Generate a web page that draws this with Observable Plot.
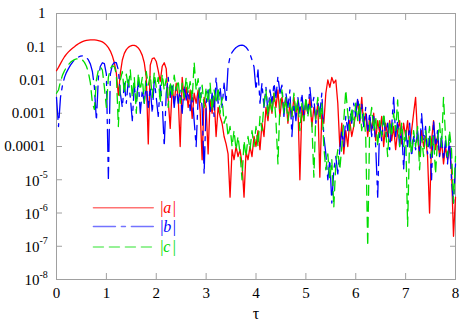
<!DOCTYPE html>
<html><head><meta charset="utf-8">
<script src="https://cdn.jsdelivr.net/npm/d3@7"></script>
<script src="https://cdn.jsdelivr.net/npm/@observablehq/plot@0.6"></script>
<style>
body{margin:0;background:#fff}
#chart{width:460px;height:327px}
</style>
</head><body><div id="chart"></div>
<script>
// sampling step of tau for the series below
const tauStep = 0.04;

const absA = [
  0.019, 0.024, 0.031, 0.04, 0.05, 0.06, 0.07, 0.08, 0.09, 0.1,
  0.112, 0.123, 0.133, 0.142, 0.15, 0.155, 0.158, 0.16, 0.16, 0.16,
  0.158, 0.154, 0.148, 0.14, 0.128, 0.112, 0.094, 0.074, 0.053, 0.033,
  0.016, 0.0035, 0.016, 0.04, 0.063, 0.082, 0.096, 0.105, 0.11, 0.11,
  0.104, 0.092, 0.075, 0.055, 0.033, 0.012, 1.2e-4, 0.028, 0.044, 0.046,
  0.036, 0.019, 0.009, 0.026, 0.033, 0.022, 2.5e-3, 3.5e-4, 6e-3, 2e-3,
  8e-3, 3e-3, 1e-4, 1.2e-2, 2.5e-3, 6e-3, 1.5e-3, 5e-3, 7e-4, 4e-3,
  2e-3, 5e-3, 1.2e-3, 4e-5, 3e-3, 1.5e-3, 6e-5, 2.5e-3, 1e-3, 3e-3,
  2e-4, 1.5e-3, 8e-4, 5e-4, 2e-4, 1.2e-4, 6e-5, 3e-6, 8e-5, 4e-5,
  1e-4, 5e-5, 8e-5, 3e-5, 3e-6, 7e-5, 4e-5, 1e-4, 5e-5, 2e-4,
  1e-4, 3e-4, 8e-5, 5e-4, 2e-4, 1.5e-3, 6e-4, 2.5e-3, 1e-3, 4e-3,
  1.5e-3, 5e-3, 8e-4, 3e-3, 1.2e-3, 3e-3, 5e-4, 2e-3, 8e-4, 3e-3,
  1e-3, 2e-3, 1e-5, 1.5e-3, 6e-4, 2.5e-3, 1e-3, 3e-3, 4e-4, 1.5e-3,
  7e-4, 2e-3, 1.2e-5, 1e-3, 5e-4, 4e-3, 1e-2, 6e-3, 1.2e-2, 8e-3,
  1e-2, 2e-3, 1e-4, 5e-4, 6e-5, 3e-4, 1e-4, 6e-4, 2e-4, 4e-4,
  1e-3, 2.5e-3, 5e-4, 3e-3, 4e-4, 1e-3, 2e-4, 8e-4, 3e-4, 1e-3,
  1.5e-4, 6e-4, 2.5e-4, 8e-4, 1e-4, 5e-4, 2e-4, 6e-4, 1.5e-4, 4e-4,
  8e-5, 3e-4, 6e-4, 1.2e-4, 5e-4, 2e-4, 6e-4, 1e-4, 3e-4, 1e-3,
  3e-3, 2e-4, 5e-5, 3e-4, 1e-4, 2e-4, 5e-5, 1e-6, 1.5e-4, 6e-4,
  8e-5, 2e-4, 5e-5, 1.5e-4, 3e-5, 1e-4, 4e-5, 1e-4, 2e-5, 2e-7,
  3e-6
];

const absB = [
  3e-3, 4e-4, 3e-3, 7e-3, 0.012, 0.017, 0.022, 0.028, 0.034, 0.04,
  0.045, 0.049, 0.052, 0.053, 0.052, 0.048, 0.04, 0.03, 0.018, 0.006,
  6e-4, 0.012, 0.026, 0.033, 0.031, 0.015, 1.1e-5, 0.015, 0.028, 0.034,
  0.033, 0.02, 4e-3, 1.5e-3, 8e-3, 2e-3, 1e-2, 3e-3, 6e-4, 7e-3,
  2e-3, 9e-3, 1e-3, 5e-3, 2e-3, 8e-3, 1.5e-3, 6e-3, 1e-3, 1e-2,
  3e-3, 8e-4, 7e-3, 2e-3, 1e-4, 4e-3, 1.2e-2, 3e-3, 8e-3, 1.5e-3,
  6e-3, 2e-3, 5e-3, 1e-3, 7e-3, 2.5e-3, 5e-3, 1.2e-3, 4e-3, 6e-4,
  1e-4, 3e-3, 6e-3, 1.5e-3, 1.5e-5, 2e-3, 5e-3, 1e-3, 4e-3, 8e-4,
  1.2e-2, 2e-3, 6e-3, 1.5e-3, 8e-3, 2e-3, 0.025, 0.05, 0.068, 0.082,
  0.095, 0.104, 0.11, 0.112, 0.108, 0.097, 0.08, 0.06, 0.04, 0.025,
  5e-3, 0.02, 2e-3, 8e-3, 1.5e-3, 6e-3, 1e-3, 5e-3, 2e-3, 8e-3,
  3e-3, 1.3e-2, 4e-3, 7e-3, 8e-4, 4e-3, 1.5e-3, 5e-3, 2e-4, 2e-3,
  6e-4, 3e-3, 1e-3, 4e-3, 8e-4, 2.5e-3, 1e-3, 6e-3, 1.5e-3, 3e-3,
  5e-4, 2e-3, 1e-3, 4e-3, 2e-4, 6e-5, 1e-5, 4e-5, 2e-6, 2e-5,
  5e-5, 1.5e-5, 8e-5, 3e-4, 1e-4, 8e-4, 3e-4, 1.5e-3, 5e-4, 2e-3,
  8e-4, 3e-3, 6e-4, 2e-3, 4e-4, 1.5e-3, 3e-4, 1e-3, 2e-4, 8e-4,
  1e-4, 3e-6, 5e-4, 1.5e-4, 8e-4, 2e-4, 5e-4, 8e-5, 4e-4, 3e-3,
  2e-4, 6e-4, 1e-4, 4e-4, 2e-5, 3e-4, 1e-4, 5e-4, 5e-5, 2e-4,
  8e-5, 3e-4, 6e-5, 1e-3, 1.5e-4, 4e-4, 6e-5, 2e-4, 1e-5, 6e-4,
  1e-4, 3e-4, 5e-5, 2e-4, 4e-5, 1.5e-4, 3e-5, 2e-4, 1e-5, 2e-6,
  3e-5
];

const absC = [
  4e-3, 5e-3, 0.009, 0.014, 0.019, 0.024, 0.029, 0.034, 0.038, 0.041,
  0.043, 0.044, 0.043, 0.04, 0.034, 0.026, 0.017, 0.008, 2e-3, 1.3e-3,
  0.01, 0.02, 0.025, 0.02, 0.006, 1.5e-3, 0.012, 0.022, 0.027, 0.025,
  0.015, 4e-4, 0.01, 0.018, 4e-3, 0.015, 6e-3, 0.02, 3e-3, 0.012,
  1e-3, 0.016, 5e-3, 0.012, 2e-3, 0.018, 7e-3, 0.014, 3e-3, 0.017,
  6e-3, 0.012, 2e-3, 0.015, 5e-3, 0.011, 1.5e-3, 9e-3, 3e-3, 0.014,
  5e-3, 0.01, 2e-3, 8e-3, 3e-3, 0.012, 4e-3, 9e-3, 2.5e-3, 0.034,
  5e-3, 0.011, 2e-3, 7e-3, 1.5e-3, 6e-3, 2e-3, 8e-3, 1.2e-3, 5e-3,
  2e-3, 6e-3, 1e-3, 3e-3, 5e-4, 8e-4, 2e-4, 4e-4, 1e-4, 3e-4,
  8e-5, 2e-4, 6e-5, 1e-5, 1.5e-4, 5e-5, 2e-4, 8e-5, 3e-4, 1e-4,
  4e-4, 1e-4, 8e-4, 3e-4, 2e-3, 5e-3, 8e-4, 3e-3, 1e-3, 4e-3,
  6e-4, 3e-5, 2e-3, 5e-3, 1e-3, 3e-3, 6e-4, 2e-3, 8e-4, 4e-3,
  1e-3, 2.5e-3, 3e-4, 2e-3, 6e-4, 3e-3, 8e-4, 2e-3, 5e-4, 1.2e-5,
  1e-3, 3e-3, 6e-4, 2e-3, 1e-4, 2e-5, 6e-5, 1e-5, 4e-5, 1.5e-6,
  3e-5, 8e-5, 2e-5, 1e-4, 6e-4, 5e-3, 1e-3, 3e-4, 1.5e-3, 4e-4,
  2e-3, 6e-4, 2e-3, 3e-4, 1e-3, 2e-4, 1e-7, 5e-4, 1.5e-3, 3e-4,
  8e-4, 1e-4, 6e-4, 2e-4, 1e-3, 3e-4, 5e-5, 6e-4, 2e-4, 1e-3,
  3e-4, 2.5e-3, 1e-4, 5e-4, 1e-4, 3e-4, 4e-7, 2e-4, 6e-5, 3e-4,
  1e-4, 4e-4, 2e-5, 2e-4, 5e-5, 3e-4, 1e-4, 4e-4, 5e-5, 2e-4,
  1.5e-5, 1.5e-4, 5e-4, 1e-4, 3e-3, 2e-4, 5e-5, 3e-4, 8e-5, 2e-6,
  5e-5
];

const seriesNames = ["a", "b", "c"];
const xTicks = [0, 1, 2, 3, 4, 5, 6, 7, 8];
const yTicksDecimal = [1, 0.1, 0.01, 0.001, 0.0001];
const yTickLabelsDecimal = ["1", "0.1", "0.01", "0.001", "0.0001"];
const yTicksPow = [1e-5, 1e-6, 1e-7, 1e-8];
const yTickExponents = ["-5", "-6", "-7", "-8"];
// legend placement (in data coordinates)
const legendTau = [0.74, 1.94];
const legendLabelTau = 2.08;
const legendY = [1.45e-6, 3.9e-7, 9.5e-8];

const colors = ["#ff0000", "#0000ff", "#00dd00"];
const dashes = [null, "22,6,4,6", "10,6"];
const font = "Liberation Serif, DejaVu Serif, serif";
const frameColor = "#a0a0a0";

const toRows = (vals) => vals.map((v, i) => ({tau: +(i * tauStep).toFixed(2), v}));
const series = [absA, absB, absC].map(toRows);
const allYTicks = [...yTicksDecimal, ...yTicksPow];
const tf = {fontFamily: font, fill: "black"};

const marks = [
  Plot.frame({stroke: frameColor}),
  Plot.axisX({anchor: "bottom", ticks: xTicks, tickSize: 6, insetBottom: 6, stroke: frameColor, fill: "none", label: null}),
  Plot.axisX({anchor: "top", ticks: xTicks, tickSize: 6, insetTop: 6, stroke: frameColor, fill: "none", label: null}),
  Plot.axisY({anchor: "left", ticks: allYTicks, tickSize: 6, insetLeft: 6, stroke: frameColor, fill: "none", label: null}),
  Plot.axisY({anchor: "right", ticks: allYTicks, tickSize: 6, insetRight: 6, stroke: frameColor, fill: "none", label: null}),
  Plot.text(xTicks, {...tf, x: d => d, frameAnchor: "bottom", lineAnchor: "top", dy: 8, text: d => String(d), fontSize: 15}),
  Plot.text(["τ"], {...tf, frameAnchor: "bottom", dy: 39, text: d => d, fontSize: 16}),
  Plot.text(yTicksDecimal, {...tf, y: d => d, frameAnchor: "left", textAnchor: "end", dx: -11, text: (d, i) => yTickLabelsDecimal[i], fontSize: 15}),
  Plot.text(yTicksPow, {...tf, y: d => d, frameAnchor: "left", textAnchor: "end", dx: -17, dy: 1, text: () => "10", fontSize: 15}),
  Plot.text(yTicksPow, {...tf, y: d => d, frameAnchor: "left", textAnchor: "start", dx: -17, dy: -5, text: (d, i) => yTickExponents[i], fontSize: 10})
];

series.forEach((rows, k) => {
  marks.push(Plot.line(rows, {x: "tau", y: "v", stroke: colors[k], strokeWidth: 1.3, strokeDasharray: dashes[k], curve: "linear"}));
});

seriesNames.forEach((name, k) => {
  marks.push(Plot.line(legendTau.map(t => ({tau: t, v: legendY[k]})), {x: "tau", y: "v", stroke: colors[k], strokeWidth: 1.5, strokeOpacity: 0.55, strokeDasharray: dashes[k]}));
  marks.push(Plot.text([name], {x: legendLabelTau, y: legendY[k], text: () => "|", textAnchor: "start", fontSize: 16, fontFamily: font, fill: colors[k]}));
  marks.push(Plot.text([name], {x: legendLabelTau, y: legendY[k], text: d => d, dx: 3, textAnchor: "start", fontSize: 16, fontFamily: font, fontStyle: "italic", fill: colors[k]}));
  marks.push(Plot.text([name], {x: legendLabelTau, y: legendY[k], text: () => "|", dx: 12.5, textAnchor: "start", fontSize: 16, fontFamily: font, fill: colors[k]}));
});

const chart = Plot.plot({
  width: 460, height: 327,
  marginLeft: 56, marginRight: 5, marginTop: 13, marginBottom: 48,
  style: {fontFamily: font, fontSize: "15px", background: "white", color: "black", overflow: "visible"},
  x: {domain: [0, 8]},
  y: {type: "log", domain: [1e-8, 1]},
  marks
});
document.getElementById("chart").appendChild(chart);
</script>
</body></html>
